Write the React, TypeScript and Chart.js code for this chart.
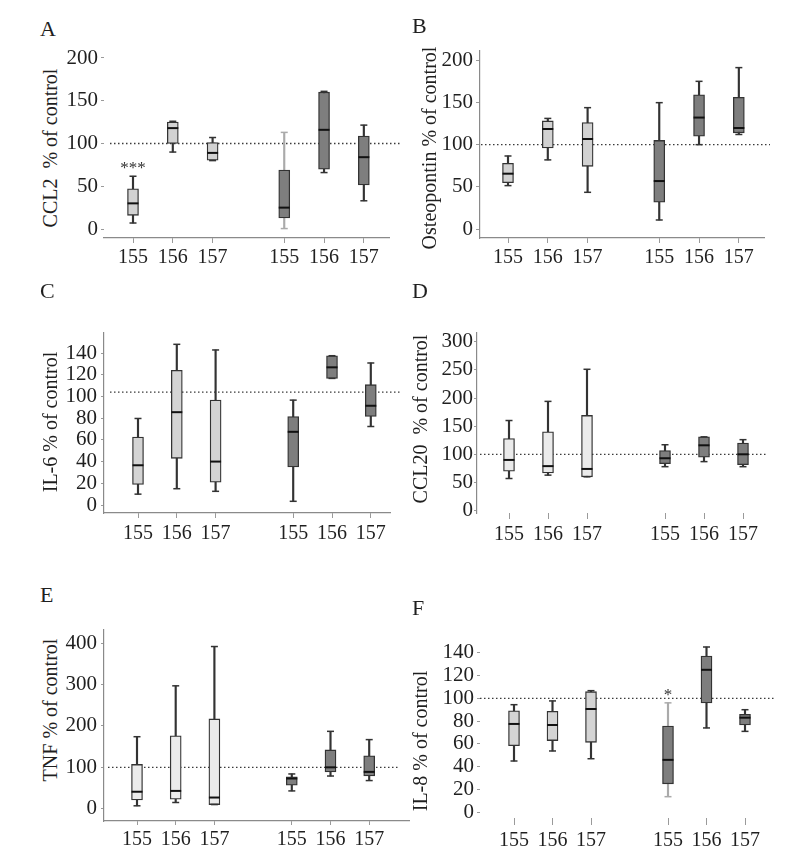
import React, { useEffect, useRef } from 'react';
import { Chart, registerables } from 'chart.js';
Chart.register(...registerables);
const SERIF = '"Liberation Serif", "Times New Roman", serif';
Chart.defaults.font.family = SERIF;

// ---- data ----
const groups = ['155', '156', '157', '155', '156', '157'];

const ccl2Min = [7, 90, 80, 0.5, 66, 33];
const ccl2Q1 = [16, 100, 80.5, 13, 70, 51.5];
const ccl2Median = [30, 118, 89, 25, 116, 84];
const ccl2Q3 = [47, 125, 101, 69, 160, 108.6];
const ccl2Max = [61.7, 126, 107, 113, 161, 121.5];
const ccl2Marks = ['***', '', '', '', '', ''];

const opnMin = [51.6, 82, 43.7, 11, 100, 112];
const opnQ1 = [55, 96, 74.4, 32, 110, 114];
const opnMedian = [65.7, 118.5, 106.7, 57, 132, 119.7];
const opnQ3 = [78, 128, 126, 105, 159, 156];
const opnMax = [86.6, 131, 143.7, 149.6, 174.8, 191];
const opnMarks = ['', '', '', '', '', ''];

const il6Min = [10, 15, 12.6, 3.4, 116.6, 72.3];
const il6Q1 = [19, 43, 21, 35, 116.6, 81.5];
const il6Median = [36.6, 85.5, 40, 67.4, 126.8, 91.4];
const il6Q3 = [62.5, 124, 96.6, 81.5, 137.5, 110.8];
const il6Max = [79.7, 148, 142.8, 96.6, 137.5, 130.8];
const il6Marks = ['', '', '', '', '', ''];

const ccl20Min = [57, 63, 60, 78, 87, 78];
const ccl20Q1 = [70, 67, 60, 83.4, 95, 81.7];
const ccl20Median = [90, 79, 74, 93, 116, 100];
const ccl20Q3 = [128, 140, 169, 106.5, 131, 120];
const ccl20Max = [160, 194, 251, 117, 131, 126];
const ccl20Marks = ['', '', '', '', '', ''];

const tnfMin = [7, 15, 10, 43, 79, 68];
const tnfQ1 = [21, 23, 10, 57, 89, 79];
const tnfMedian = [41, 43, 27, 73, 100, 89];
const tnfQ3 = [107, 176, 217, 77, 142, 128];
const tnfMax = [174, 297, 392, 84, 187, 167];
const tnfMarks = ['', '', '', '', '', ''];

const il8Min = [45, 53.8, 47, 13.7, 74, 71];
const il8Q1 = [58.5, 62.9, 61.4, 25, 96, 76.6];
const il8Median = [77.5, 76.6, 90.6, 46, 125, 83];
const il8Q3 = [89, 88.6, 105.8, 75.7, 137, 86];
const il8Max = [94.4, 97.7, 106.7, 96, 145, 90];
const il8Marks = ['', '', '', '*', '', ''];

const ticksA = [0, 50, 100, 150, 200];
const ticksB = [0, 50, 100, 150, 200];
const ticksC = [0, 20, 40, 60, 80, 100, 120, 140];
const ticksD = [0, 50, 100, 150, 200, 250, 300];
const ticksE = [0, 100, 200, 300, 400];
const ticksF = [0, 20, 40, 60, 80, 100, 120, 140];

// ---- styles / layout ----
const DARK = '#7e7e7e';
const W = '#333333';
const WL = '#aaaaaa';

type Panel = {
  letter: string; letterX: number; letterBase: number;
  title: string; titleX: number; titleY: number;
  area: { left: number; right: number; top: number; bottom: number };
  zeroPx: number; pxPerUnit: number; yTicks: number[];
  xFirst: number; xUnit: number; gap: number;
  yBorder: boolean; xBorder: boolean;
  ref: number; refFrom: number; refTo: number;
  yTick: { len: number; pad: number }; xTick: { len: number; pad: number };
  lightFill: string; whisker: string[];
  mins: number[]; q1: number[]; med: number[]; q3: number[]; maxs: number[]; marks: string[];
};

const panels: Panel[] = [
  {
    letter: 'A', letterX: 40, letterBase: 36, title: 'CCL2  % of control', titleX: 50, titleY: 148,
    area: { left: 104, right: 389, top: 50, bottom: 238 }, zeroPx: 229, pxPerUnit: 0.855, yTicks: ticksA,
    xFirst: 133, xUnit: 39.8, gap: 1.8, yBorder: false, xBorder: true, ref: 100, refFrom: 110, refTo: 400,
    yTick: { len: 3, pad: 3 }, xTick: { len: 5, pad: 3 }, lightFill: '#d2d2d2', whisker: [W, W, W, WL, W, W],
    mins: ccl2Min, q1: ccl2Q1, med: ccl2Median, q3: ccl2Q3, maxs: ccl2Max, marks: ccl2Marks,
  },
  {
    letter: 'B', letterX: 412, letterBase: 33, title: 'Osteopontin % of control', titleX: 429, titleY: 148,
    area: { left: 480, right: 764, top: 51, bottom: 238 }, zeroPx: 229.3, pxPerUnit: 0.8465, yTicks: ticksB,
    xFirst: 508, xUnit: 39.8, gap: 1.8, yBorder: true, xBorder: true, ref: 100, refFrom: 481, refTo: 770,
    yTick: { len: 4, pad: 3 }, xTick: { len: 5, pad: 3 }, lightFill: '#d2d2d2', whisker: [W, W, W, W, W, W],
    mins: opnMin, q1: opnQ1, med: opnMedian, q3: opnQ3, maxs: opnMax, marks: opnMarks,
  },
  {
    letter: 'C', letterX: 40, letterBase: 298, title: 'IL-6 % of control', titleX: 50, titleY: 422,
    area: { left: 104, right: 390, top: 333, bottom: 513 }, zeroPx: 505, pxPerUnit: 1.0857, yTicks: ticksC,
    xFirst: 138, xUnit: 38.8, gap: 2, yBorder: true, xBorder: true, ref: 104, refFrom: 110, refTo: 400,
    yTick: { len: 3, pad: 4 }, xTick: { len: 5, pad: 4 }, lightFill: '#d4d4d4', whisker: [W, W, W, W, W, W],
    mins: il6Min, q1: il6Q1, med: il6Median, q3: il6Q3, maxs: il6Max, marks: il6Marks,
  },
  {
    letter: 'D', letterX: 412, letterBase: 298, title: 'CCL20  % of control', titleX: 420, titleY: 419,
    area: { left: 477, right: 767, top: 333, bottom: 513 }, zeroPx: 510.6, pxPerUnit: 0.563, yTicks: ticksD,
    xFirst: 509, xUnit: 39, gap: 2, yBorder: true, xBorder: false, ref: 100, refFrom: 480, refTo: 767,
    yTick: { len: 3, pad: 1 }, xTick: { len: 6, pad: 4 }, lightFill: '#ebebeb', whisker: [W, W, W, W, W, W],
    mins: ccl20Min, q1: ccl20Q1, med: ccl20Median, q3: ccl20Q3, maxs: ccl20Max, marks: ccl20Marks,
  },
  {
    letter: 'E', letterX: 40, letterBase: 602, title: 'TNF % of control', titleX: 50, titleY: 710,
    area: { left: 104, right: 409, top: 630, bottom: 821 }, zeroPx: 808.7, pxPerUnit: 0.4137, yTicks: ticksE,
    xFirst: 137, xUnit: 38.7, gap: 2, yBorder: true, xBorder: true, ref: 100, refFrom: 108, refTo: 400,
    yTick: { len: 3, pad: 4 }, xTick: { len: 4, pad: 3 }, lightFill: '#ebebeb', whisker: [W, W, W, W, W, W],
    mins: tnfMin, q1: tnfQ1, med: tnfMedian, q3: tnfQ3, maxs: tnfMax, marks: tnfMarks,
  },
  {
    letter: 'F', letterX: 412, letterBase: 615, title: 'IL-8 % of control', titleX: 420, titleY: 741,
    area: { left: 480, right: 774, top: 640, bottom: 818 }, zeroPx: 812.3, pxPerUnit: 1.14, yTicks: ticksF,
    xFirst: 514, xUnit: 38.5, gap: 2, yBorder: false, xBorder: false, ref: 100, refFrom: 480, refTo: 774,
    yTick: { len: 3, pad: 3 }, xTick: { len: 7, pad: 4 }, lightFill: '#d4d4d4', whisker: [W, W, W, WL, W, W],
    mins: il8Min, q1: il8Q1, med: il8Median, q3: il8Q3, maxs: il8Max, marks: il8Marks,
  },
];

const Y_AXIS_W = 70;
const PAD_TOP = 22;
const PAD_RIGHT = 22;
const X_AXIS_H = 42;

function BoxPanel({ p }: { p: Panel }) {
  const ref = useRef<HTMLCanvasElement>(null);
  const cx = p.area.left - Y_AXIS_W;
  const cy = p.area.top - PAD_TOP;
  const right = Math.max(p.area.right, p.refTo) + PAD_RIGHT;
  const cw = right - cx;
  const ch = p.area.bottom + X_AXIS_H - cy;

  useEffect(() => {
    const xs = groups.map((_, i) => (i < 3 ? i + 1 : i + p.gap));
    const toX = (px: number) => 1 + (px - p.xFirst) / p.xUnit;
    const xMin = toX(p.area.left);
    const xMax = toX(p.area.right);
    const yMin = -(p.area.bottom - p.zeroPx) / p.pxPerUnit;
    const yMax = (p.zeroPx - p.area.top) / p.pxPerUnit;

    const marksPlugin = {
      id: 'marks',
      afterDatasetsDraw(chart: any) {
        const { ctx, scales } = chart;
        p.marks.forEach((m, i) => {
          if (!m) return;
          ctx.save();
          ctx.font = '17px ' + SERIF;
          ctx.fillStyle = '#333';
          ctx.textAlign = 'center';
          ctx.textBaseline = 'alphabetic';
          ctx.fillText(m, scales.x.getPixelForValue(xs[i]), scales.y.getPixelForValue(p.maxs[i]) - 3);
          ctx.restore();
        });
      },
    };

    const chart = new Chart(ref.current as HTMLCanvasElement, {
      type: 'bar',
      data: {
        datasets: [
          {
            type: 'line',
            data: [{ x: toX(p.refFrom), y: p.ref }, { x: toX(p.refTo), y: p.ref }],
            borderColor: '#3a3a3a', borderWidth: 1.3, borderDash: [1.5, 2.5], pointRadius: 0,
            clip: false as any, order: 5,
          } as any,
          {
            type: 'bar',
            data: xs.map((x, i) => ({ x, y: [p.mins[i], p.maxs[i]] })),
            backgroundColor: p.whisker, borderWidth: 0, barThickness: 1.5, grouped: false, order: 4,
          } as any,
          {
            type: 'bar',
            data: xs.map((x, i) => ({ x, y: [p.q1[i], p.q3[i]] })),
            backgroundColor: xs.map((_, i) => (i < 3 ? p.lightFill : DARK)),
            borderColor: '#333', borderWidth: 1.3, borderSkipped: false, barThickness: 11, grouped: false, order: 3,
          } as any,
          {
            type: 'scatter',
            data: xs.map((x, i) => ({ x, y: p.maxs[i] })),
            pointStyle: 'line', pointRadius: 3.5, pointBorderWidth: 1.5, pointBorderColor: p.whisker, order: 2,
          } as any,
          {
            type: 'scatter',
            data: xs.map((x, i) => ({ x, y: p.mins[i] })),
            pointStyle: 'line', pointRadius: 3.5, pointBorderWidth: 1.5, pointBorderColor: p.whisker, order: 2,
          } as any,
          {
            type: 'scatter',
            data: xs.map((x, i) => ({ x, y: p.med[i] })),
            pointStyle: 'line', pointRadius: 5.5, pointBorderWidth: 2, pointBorderColor: '#111', order: 1,
          } as any,
        ],
      },
      options: {
        animation: false,
        responsive: false,
        maintainAspectRatio: false,
        events: [],
        layout: { padding: { left: 0, top: PAD_TOP, right: right - p.area.right, bottom: 0 } },
        plugins: { legend: { display: false }, tooltip: { enabled: false } },
        scales: {
          x: {
            type: 'linear', min: xMin, max: xMax, offset: false,
            border: { display: p.xBorder, color: '#8a8a8a', width: 1.2 },
            grid: { display: true, drawOnChartArea: false, drawTicks: true, tickLength: p.xTick.len, color: '#9a9a9a', offset: false },
            ticks: {
              autoSkip: false, maxRotation: 0, minRotation: 0, padding: p.xTick.pad,
              font: { size: 20, family: SERIF }, color: '#1f1f1f',
              callback: (_v: any, i: number) => groups[i],
            },
            afterBuildTicks: (s: any) => { s.ticks = xs.map((v) => ({ value: v })); },
            afterFit: (s: any) => { s.height = X_AXIS_H; },
          },
          y: {
            type: 'linear', min: yMin, max: yMax,
            border: { display: p.yBorder, color: '#8a8a8a', width: 1.2 },
            grid: { display: true, drawOnChartArea: false, drawTicks: true, tickLength: p.yTick.len, color: '#9a9a9a' },
            ticks: { autoSkip: false, padding: p.yTick.pad, font: { size: 21, family: SERIF }, color: '#1f1f1f' },
            afterBuildTicks: (s: any) => { s.ticks = p.yTicks.map((v) => ({ value: v })); },
            afterFit: (s: any) => { s.width = Y_AXIS_W; },
          },
        } as any,
      },
      plugins: [marksPlugin],
    } as any);
    return () => chart.destroy();
  }, [p]);

  return (
    <>
      <div style={{ position: 'absolute', left: p.letterX, top: p.letterBase - 18.4, fontSize: 22, lineHeight: '22px', color: '#1f1f1f' }}>
        {p.letter}
      </div>
      <div
        style={{
          position: 'absolute', left: p.titleX, top: p.titleY, transform: 'translate(-50%, -50%) rotate(-90deg)',
          whiteSpace: 'pre', fontSize: 20, lineHeight: '20px', color: '#1f1f1f',
        }}
      >
        {p.title}
      </div>
      <canvas
        ref={ref}
        width={cw}
        height={ch}
        style={{ position: 'absolute', left: cx, top: cy, width: cw, height: ch }}
      />
    </>
  );
}

export default function App() {
  return (
    <div
      style={{
        position: 'fixed', left: 0, top: 0, width: 797, height: 867, background: '#ffffff', overflow: 'hidden',
        fontFamily: SERIF,
      }}
    >
      {panels.map((p) => (
        <BoxPanel key={p.letter} p={p} />
      ))}
    </div>
  );
}
